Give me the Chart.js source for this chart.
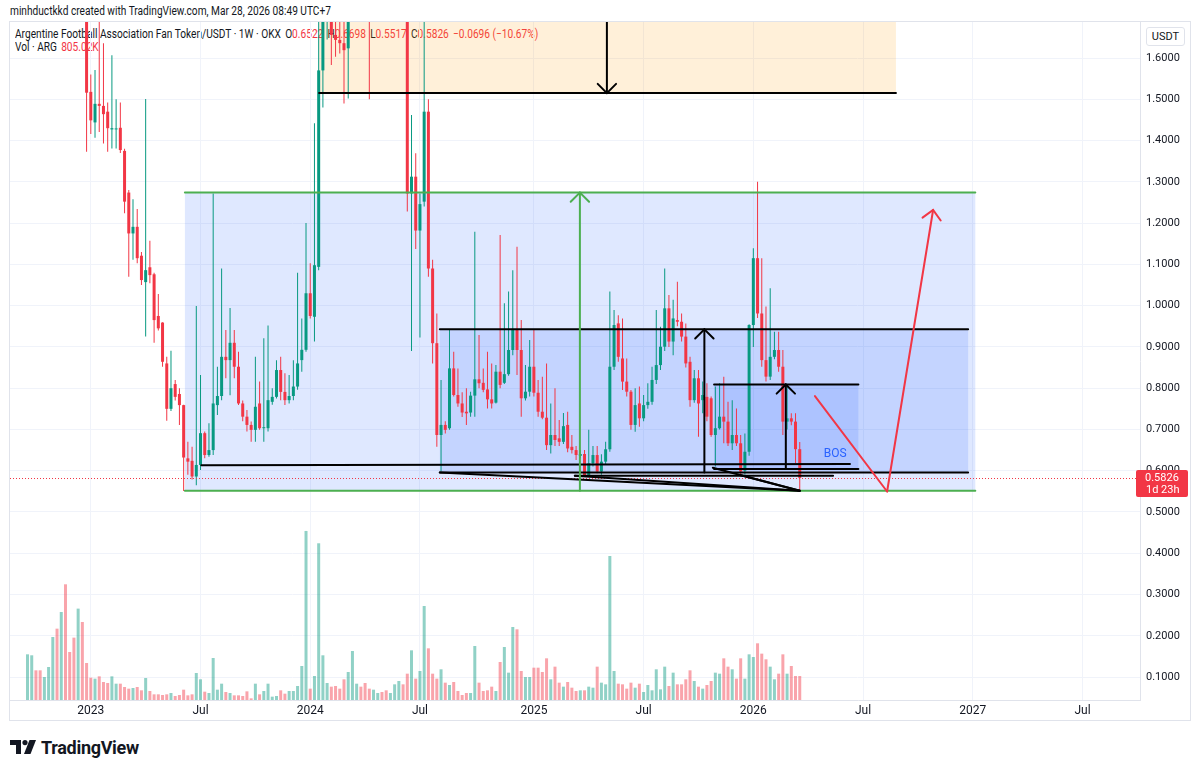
<!DOCTYPE html>
<html lang="en">
  <head>
    <title>ARG/USDT 1W</title>
    <script src="https://cdn.jsdelivr.net/npm/chart.js@4.4.1/dist/chart.umd.min.js"></script>
    <style>
      body{
        margin: 0;
        background: #ffffff;
        font-family: Roboto, 'Noto Sans', sans-serif;
        color: #131722;
      }
      #wrap{ position: relative; width: 1200px; height: 772px; overflow: hidden; }
      #author{ position: absolute; left: 10px; top: 4px; font-size: 12px; transform: scaleX(0.845); transform-origin: left top; white-space: nowrap; }
      #panel{ position: absolute; left: 9px; top: 21px; width: 1180px; height: 698px; border: 1px solid #e0e3eb; }
      #legend{ position: absolute; left: 15px; top: 28px; font-size: 12px; line-height: 13px; white-space: nowrap;
               transform: scaleX(0.845); transform-origin: left top; }
      #legend .dn{ color: #f23645; }
      #legend .gap{ display: inline-block; width: 5px; }
      #argChart{ position: absolute; left: 10px; top: 22px; }
      #unit{ position: absolute; left: 1146px; top: 27px; width: 37px; height: 17px; border: 1px solid #e0e3eb;
             border-radius: 3px; font-size: 11px; line-height: 17px; text-align: center; background: #fff; }
      #brand{ position: absolute; left: 10px; top: 737px; height: 20px; display: flex; align-items: center; }
      #brand span{ font-size: 18px; font-weight: 700; letter-spacing: -0.3px; margin-left: 5px; }
    </style>
  </head>
  <body>
    <div id="wrap">
      <div id="author">minhductkkd created with TradingView.com, Mar 28, 2026 08:49 UTC+7</div>
      <div id="panel"></div>
      <div id="legend">
        <div>Argentine Football Association Fan Token/USDT · 1W · OKX<span class="gap"></span><span id="ohlc"></span></div>
        <div>Vol · ARG<span class="gap"></span><span class="dn" id="vol"></span></div>
      </div>
      <canvas id="argChart" width="1180" height="698"></canvas>
      <div id="unit">USDT</div>
      <div id="brand">
        <svg width="26" height="14" viewBox="0 0 26 14">
          <path d="M0 0H11V14H6V5H0Z" fill="#131722"/>
          <circle cx="15" cy="2.6" r="2.6" fill="#131722"/>
          <path d="M19.5 0H26L20.5 14H14Z" fill="#131722"/>
        </svg>
        <span>TradingView</span>
      </div>
    </div>

<script>
  // weekly bars, first one is the week of 2022-09-19
  const opens = [
    2.05, 2.20, 2.35, 2.20, 2.05, 2.15, 2.40, 3.10, 2.80, 3.60,
    2.95, 2.60, 2.25, 2.45, 1.80, 1.518, 1.444, 1.489, 1.484, 1.470,
    1.427, 1.427, 1.431, 1.375, 1.274, 1.175, 1.191, 1.121, 1.057, 1.093,
    1.076, 0.975, 0.959, 0.860, 0.750, 0.810, 0.786, 0.759, 0.630, 0.624,
    0.586, 0.614, 0.691, 0.638, 0.650, 0.759, 0.781, 0.876, 0.868, 0.910,
    0.852, 0.763, 0.731, 0.711, 0.699, 0.763, 0.703, 0.703, 0.767, 0.779,
    0.844, 0.791, 0.771, 0.781, 0.804, 0.868, 0.893, 1.030, 0.973, 1.094,
    1.570, 1.800, 1.820, 1.656, 1.644, 1.636, 1.6235, 1.78, 1.95, 2.10,
    1.98, 1.88, 1.75, 1.85, 1.92, 1.85, 1.80, 1.88, 2.05, 2.20,
    1.95, 1.272, 1.3125, 1.182, 1.252, 1.470, 1.090, 0.909, 0.6866, 0.711,
    0.703, 0.848, 0.7835, 0.763, 0.743, 0.741, 0.782, 0.8215, 0.813, 0.797,
    0.773, 0.765, 0.840, 0.813, 0.834, 0.8925, 0.941, 0.8925, 0.7755, 0.7915,
    0.852, 0.789, 0.743, 0.7285, 0.662, 0.6866, 0.6785, 0.670, 0.711, 0.658,
    0.650, 0.636, 0.6405, 0.587, 0.618, 0.638, 0.598, 0.622, 0.652, 0.852,
    0.957, 0.872, 0.816, 0.7915, 0.711, 0.763, 0.727, 0.759, 0.767, 0.820,
    0.856, 0.9005, 0.9935, 0.913, 0.965, 0.961, 0.925, 0.864, 0.771, 0.824,
    0.771, 0.779, 0.7755, 0.6866, 0.703, 0.731, 0.719, 0.6665, 0.6866, 0.6665,
    0.600, 0.646, 0.953, 1.115, 0.981, 0.868, 0.828, 0.876, 0.8925, 0.852,
    0.719, 0.727, 0.719, 0.6522
  ];
  const highs = [
    2.30, 2.45, 2.40, 2.28, 2.22, 2.50, 3.30, 3.40, 4.10, 4.60,
    3.10, 2.75, 2.70, 2.55, 1.95, 1.56, 1.571, 1.72, 1.636, 1.492,
    1.607, 1.500, 1.492, 1.380, 1.280, 1.258, 1.234, 1.130, 1.501, 1.157,
    1.080, 1.028, 0.960, 0.876, 0.891, 0.820, 0.800, 0.760, 0.670, 0.658,
    0.999, 0.832, 0.695, 0.715, 1.272, 0.852, 1.090, 0.941, 0.994, 0.941,
    0.888, 0.770, 0.747, 0.719, 0.876, 0.816, 0.921, 0.952, 0.800, 0.868,
    0.876, 0.836, 0.832, 0.868, 1.080, 0.969, 1.200, 1.103, 1.442, 1.700,
    1.950, 1.950, 1.900, 1.700, 1.720, 1.750, 1.850, 2.05, 2.20, 2.18,
    2.02, 1.92, 1.95, 2.00, 1.97, 1.90, 1.95, 2.20, 2.40, 2.25,
    1.98, 1.462, 1.369, 1.272, 1.80, 1.500, 1.111, 0.981, 0.820, 0.720,
    0.941, 0.888, 0.848, 0.790, 0.800, 0.7915, 1.179, 0.929, 0.848, 0.888,
    0.860, 0.856, 1.171, 1.006, 1.034, 1.086, 1.143, 0.965, 0.856, 0.917,
    0.941, 0.820, 0.828, 0.860, 0.763, 0.800, 0.723, 0.740, 0.743, 0.6866,
    0.660, 0.650, 0.650, 0.699, 0.660, 0.660, 0.640, 0.670, 1.034, 0.9895,
    0.977, 0.969, 0.872, 0.7955, 0.800, 0.804, 0.7835, 0.812, 0.852, 0.9895,
    0.949, 1.090, 1.026, 1.014, 1.058, 0.981, 0.957, 0.876, 0.844, 0.844,
    0.816, 0.812, 0.780, 0.804, 0.812, 0.828, 0.767, 0.771, 0.751, 0.6866,
    0.690, 0.955, 1.139, 1.300, 1.115, 0.998, 1.042, 0.937, 0.937, 0.8925,
    0.804, 0.739, 0.739, 0.6698
  ];
  const lows = [
    1.98, 2.10, 2.12, 1.95, 1.98, 2.10, 2.35, 2.70, 2.75, 2.85,
    2.50, 2.15, 2.10, 1.75, 1.373, 1.416, 1.407, 1.421, 1.393, 1.373,
    1.381, 1.381, 1.370, 1.224, 1.070, 1.111, 1.103, 1.050, 0.925, 1.054,
    0.910, 0.940, 0.852, 0.721, 0.745, 0.770, 0.711, 0.551, 0.590, 0.579,
    0.565, 0.602, 0.630, 0.634, 0.638, 0.735, 0.771, 0.824, 0.783, 0.824,
    0.759, 0.720, 0.695, 0.670, 0.670, 0.699, 0.670, 0.695, 0.760, 0.775,
    0.771, 0.759, 0.763, 0.771, 0.796, 0.840, 0.888, 0.969, 0.913, 1.086,
    1.480, 1.645, 1.583, 1.603, 1.611, 1.490, 1.502, 1.72, 1.88, 1.90,
    1.78, 1.50, 1.71, 1.80, 1.80, 1.74, 1.76, 1.85, 2.00, 1.85,
    1.228, 0.890, 1.137, 0.923, 1.240, 1.070, 0.860, 0.658, 0.598, 0.690,
    0.699, 0.780, 0.755, 0.730, 0.711, 0.731, 0.731, 0.800, 0.790, 0.751,
    0.751, 0.763, 0.800, 0.810, 0.830, 0.880, 0.832, 0.731, 0.770, 0.780,
    0.780, 0.731, 0.7245, 0.650, 0.642, 0.660, 0.660, 0.665, 0.645, 0.642,
    0.626, 0.630, 0.5855, 0.5855, 0.610, 0.594, 0.590, 0.615, 0.646, 0.844,
    0.864, 0.7955, 0.780, 0.699, 0.6945, 0.7065, 0.720, 0.750, 0.760, 0.810,
    0.844, 0.890, 0.900, 0.880, 0.950, 0.913, 0.850, 0.755, 0.765, 0.6825,
    0.739, 0.720, 0.6825, 0.610, 0.700, 0.6665, 0.660, 0.650, 0.660, 0.590,
    0.590, 0.636, 0.900, 0.970, 0.852, 0.816, 0.820, 0.870, 0.840, 0.6866,
    0.700, 0.710, 0.618, 0.5517
  ];
  const closes = [
    2.20, 2.35, 2.20, 2.05, 2.15, 2.40, 3.10, 2.80, 3.60, 2.95,
    2.60, 2.25, 2.45, 1.80, 1.516, 1.449, 1.489, 1.484, 1.464, 1.430,
    1.430, 1.428, 1.377, 1.252, 1.175, 1.191, 1.115, 1.062, 1.086, 1.074,
    0.965, 0.945, 0.864, 0.750, 0.800, 0.779, 0.759, 0.632, 0.622, 0.586,
    0.614, 0.691, 0.638, 0.650, 0.763, 0.781, 0.876, 0.868, 0.910, 0.852,
    0.763, 0.731, 0.711, 0.699, 0.755, 0.703, 0.705, 0.771, 0.779, 0.844,
    0.791, 0.771, 0.781, 0.804, 0.860, 0.893, 1.030, 0.975, 1.098, 1.570,
    1.800, 1.820, 1.656, 1.644, 1.636, 1.619, 1.780, 1.95, 2.10, 1.98,
    1.88, 1.75, 1.85, 1.92, 1.85, 1.80, 1.88, 2.05, 2.20, 1.95,
    1.272, 1.3125, 1.182, 1.246, 1.470, 1.090, 0.909, 0.6866, 0.711, 0.699,
    0.848, 0.7835, 0.763, 0.741, 0.739, 0.782, 0.8215, 0.812, 0.796, 0.773,
    0.763, 0.840, 0.808, 0.834, 0.8925, 0.941, 0.8925, 0.7755, 0.7915, 0.852,
    0.789, 0.743, 0.7285, 0.662, 0.6866, 0.6745, 0.670, 0.708, 0.654, 0.650,
    0.638, 0.6405, 0.587, 0.618, 0.638, 0.598, 0.622, 0.652, 0.852, 0.953,
    0.876, 0.816, 0.7915, 0.711, 0.759, 0.727, 0.759, 0.767, 0.820, 0.856,
    0.9005, 0.9935, 0.913, 0.969, 0.961, 0.925, 0.860, 0.771, 0.824, 0.763,
    0.7835, 0.731, 0.6866, 0.703, 0.731, 0.719, 0.6665, 0.6866, 0.6665, 0.598,
    0.646, 0.953, 1.115, 0.981, 0.868, 0.828, 0.876, 0.8925, 0.852, 0.719,
    0.727, 0.719, 0.6522, 0.5826
  ];
  // volume in thousands of ARG
  const volumes = [
    1530, 1497, 994, 994, 771, 1106, 2111, 2390, 2949, 3876,
    1608, 2089, 3061, 2614, 1240, 748, 715, 793, 603, 570,
    793, 547, 547, 436, 380, 402, 436, 324, 737, 302,
    190, 190, 168, 190, 235, 134, 168, 346, 156, 190,
    905, 693, 279, 235, 1407, 346, 547, 268, 235, 156,
    156, 134, 290, 56, 547, 190, 302, 547, 112, 134,
    324, 212, 302, 302, 469, 1139, 5663, 380, 804, 5250,
    1497, 570, 447, 469, 380, 693, 938, 1642, 547, 447,
    570, 380, 346, 235, 268, 324, 235, 525, 637, 525,
    882, 1664, 715, 972, 3150, 1731, 882, 715, 1028, 581,
    503, 603, 302, 168, 235, 235, 1810, 581, 302, 324,
    447, 302, 1273, 1776, 916, 2446, 2368, 972, 771, 771,
    1083, 1083, 938, 1396, 693, 1117, 581, 447, 603, 413,
    302, 324, 324, 447, 413, 1117, 581, 525, 4825, 972,
    547, 525, 380, 581, 413, 547, 268, 503, 324, 1028,
    357, 1117, 469, 916, 525, 525, 693, 994, 637, 447,
    380, 503, 637, 916, 882, 1396, 1117, 1028, 715, 1396,
    715, 1530, 1441, 1899, 1553, 1363, 1117, 693, 882, 1530,
    882, 1139, 804, 805.02
  ];
  // time axis: bar index of the first week of each labelled month
  const tickIdx = [15, 41, 67, 93, 120, 146, 172, 198, 224, 250];
  const tickText = ['2023', 'Jul', '2024', 'Jul', '2025', 'Jul', '2026', 'Jul', '2027', 'Jul'];
  const priceTicks = [0.1, 0.2, 0.3, 0.4, 0.5, 0.6, 0.7, 0.8, 0.9, 1.0, 1.1, 1.2, 1.3, 1.4, 1.5, 1.6];

  // chart drawings, in (bar index, price)
  const boxes = [
    { from: 37.3, to: 224.6, bottom: 0.5517, top: 1.274, color: 'rgba(41,98,255,0.15)' },
    { from: 69.1, to: 205.8, bottom: 1.515, top: 2.5, color: 'rgba(255,152,0,0.15)' },
    { from: 97.7, to: 222.9, bottom: 0.596, top: 0.9427, color: 'rgba(41,98,255,0.15)' },
    { from: 162.7, to: 196.9, bottom: 0.604, top: 0.809, color: 'rgba(41,98,255,0.15)' }
  ];
  const segments = [
    { from: [37.3, 1.274], to: [224.6, 1.274], color: '#4caf50' },
    { from: [37.3, 0.5517], to: [224.6, 0.5517], color: '#4caf50' },
    { from: [69.1, 1.515], to: [205.8, 1.515], color: '#000000' },
    { from: [97.7, 0.9427], to: [222.9, 0.9427], color: '#000000' },
    { from: [97.7, 0.596], to: [222.9, 0.596], color: '#000000' },
    { from: [162.7, 0.809], to: [196.9, 0.809], color: '#000000' },
    { from: [162.7, 0.604], to: [196.9, 0.604], color: '#000000' },
    { from: [41.2, 0.6135], to: [194.9, 0.6165], color: '#000000' },
    { from: [129.7, 0.588], to: [190.9, 0.588], color: '#000000' },
    { from: [97.7, 0.596], to: [183, 0.5517], color: '#000000' },
    { from: [129.7, 0.588], to: [183, 0.5517], color: '#000000' },
    { from: [162.4, 0.607], to: [183, 0.5517], color: '#000000' },
    { from: [168.8, 0.5897], to: [183, 0.5517], color: '#000000' },
    { from: [137.3, 1.80], to: [137.3, 1.515], color: '#000000', arrow: true },
    { from: [130.9, 0.5517], to: [130.9, 1.274], color: '#4caf50', arrow: true },
    { from: [160.4, 0.596], to: [160.4, 0.9427], color: '#000000', arrow: true },
    { from: [179.7, 0.604], to: [179.7, 0.809], color: '#000000', arrow: true },
    { from: [186.6, 0.781], to: [203.7, 0.5497], color: '#f23645' },
    { from: [203.7, 0.5497], to: [214.6, 1.2318], color: '#f23645', arrow: true }
  ];

  const upColor = '#089981';
  const downColor = '#f23645';
  const last = closes.length - 1;
  const idx = closes.map((c, i) => i);
  const candleColors = idx.map(i => closes[i] >= opens[i] ? upColor : downColor);
  const volColors = idx.map(i => closes[i] >= opens[i] ? 'rgba(8,153,129,0.45)' : 'rgba(242,54,69,0.45)');

  // legend text from the last bar
  const chg = closes[last] - closes[last - 1];
  const pct = chg / closes[last - 1] * 100;
  const f4 = v => v.toFixed(4);
  document.getElementById('ohlc').innerHTML =
    'O<span class="dn">' + f4(opens[last]) + '</span><span class="gap"></span>' +
    'H<span class="dn">' + f4(highs[last]) + '</span><span class="gap"></span>' +
    'L<span class="dn">' + f4(lows[last]) + '</span><span class="gap"></span>' +
    'C<span class="dn">' + f4(closes[last]) + '</span><span class="gap"></span>' +
    '<span class="dn">' + (chg < 0 ? '\u2212' : '+') + Math.abs(chg).toFixed(4) +
    ' (' + (pct < 0 ? '\u2212' : '+') + Math.abs(pct).toFixed(2) + '%)</span>';
  document.getElementById('vol').textContent = volumes[last].toFixed(2) + 'K';

  function arrowHead(ctx, sx, sy, ex, ey, len, spread) {
    const a = Math.atan2(ey - sy, ex - sx);
    ctx.beginPath();
    ctx.moveTo(ex - len * Math.cos(a - spread), ey - len * Math.sin(a - spread));
    ctx.lineTo(ex, ey);
    ctx.lineTo(ex - len * Math.cos(a + spread), ey - len * Math.sin(a + spread));
    ctx.stroke();
  }

  const drawings = {
    id: 'drawings',
    beforeDatasetsDraw(chart) {
      const { ctx, chartArea: a, scales: { x, y } } = chart;
      ctx.save();
      ctx.beginPath();
      ctx.rect(a.left, a.top, a.width, a.height);
      ctx.clip();
      boxes.forEach(b => {
        const x1 = x.getPixelForValue(b.from), x2 = x.getPixelForValue(b.to);
        const y1 = y.getPixelForValue(b.top), y2 = y.getPixelForValue(b.bottom);
        ctx.fillStyle = b.color;
        ctx.fillRect(x1, y1, x2 - x1, y2 - y1);
      });
      ctx.restore();
    },
    afterDatasetsDraw(chart) {
      const { ctx, chartArea: a, scales: { x, y } } = chart;
      ctx.save();
      ctx.beginPath();
      ctx.rect(a.left, a.top, a.width, a.height);
      ctx.clip();

      // last price line
      const py = Math.round(y.getPixelForValue(closes[last])) + 0.5;
      ctx.strokeStyle = downColor;
      ctx.lineWidth = 1;
      ctx.setLineDash([1, 2]);
      ctx.beginPath();
      ctx.moveTo(a.left, py);
      ctx.lineTo(a.right, py);
      ctx.stroke();
      ctx.setLineDash([]);

      ctx.lineWidth = 2;
      ctx.lineCap = 'round';
      segments.forEach(s => {
        const sx = x.getPixelForValue(s.from[0]), sy = y.getPixelForValue(s.from[1]);
        const ex = x.getPixelForValue(s.to[0]), ey = y.getPixelForValue(s.to[1]);
        ctx.strokeStyle = s.color;
        ctx.beginPath();
        ctx.moveTo(sx, sy);
        ctx.lineTo(ex, ey);
        ctx.stroke();
        if (s.arrow) arrowHead(ctx, sx, sy, ex, ey, 13, Math.PI / 4);
      });

      ctx.fillStyle = '#2962ff';
      ctx.font = '12px Roboto, sans-serif';
      ctx.textAlign = 'center';
      ctx.textBaseline = 'middle';
      ctx.fillText('BOS', x.getPixelForValue(191.4), y.getPixelForValue(0.6405));
      ctx.restore();
    },
    afterDraw(chart) {
      const { ctx, chartArea: a, scales: { y } } = chart;
      const py = Math.round(y.getPixelForValue(closes[last]));
      ctx.save();
      ctx.fillStyle = downColor;
      ctx.beginPath();
      ctx.roundRect(a.right - 4, py - 8, 52, 27, 2);
      ctx.fill();
      ctx.fillStyle = '#ffffff';
      ctx.font = '11px Roboto, sans-serif';
      ctx.textAlign = 'left';
      ctx.textBaseline = 'middle';
      ctx.fillText(f4(closes[last]), a.right + 5, py);
      ctx.fillText('1d 23h', a.right + 6, py + 12);
      ctx.restore();
    }
  };

  Chart.defaults.font.family = "Roboto, 'Noto Sans', sans-serif";
  Chart.defaults.font.size = 11;
  Chart.defaults.color = '#131722';

  const barCommon = { grouped: false, clip: 0, inflateAmount: 0, borderWidth: 0, borderSkipped: false };

  const argCtx = document.getElementById('argChart').getContext('2d');
  const argChart = new Chart(argCtx, {
    type: 'bar',
    data: {
      datasets: [
        Object.assign({
          label: 'Volume', yAxisID: 'yv', order: 3, barThickness: 3,
          data: idx.map(i => ({ x: i, y: volumes[i] })),
          backgroundColor: volColors
        }, barCommon),
        Object.assign({
          label: 'Wicks', yAxisID: 'y', order: 2, barThickness: 1,
          data: idx.map(i => ({ x: i, y: [lows[i], highs[i]] })),
          backgroundColor: candleColors
        }, barCommon),
        Object.assign({
          label: 'Bodies', yAxisID: 'y', order: 1, barThickness: 3, minBarLength: 1,
          data: idx.map(i => ({ x: i, y: [Math.min(opens[i], closes[i]), Math.max(opens[i], closes[i])] })),
          backgroundColor: candleColors
        }, barCommon)
      ]
    },
    options: {
      responsive: false,
      animation: false,
      layout: { padding: 0 },
      plugins: { legend: { display: false }, tooltip: { enabled: false } },
      scales: {
        x: {
          type: 'linear',
          min: -4.147,
          max: 263.63,
          offset: false,
          grid: { color: '#f0f3fa', offset: false, drawTicks: false },
          border: { color: '#e0e3eb' },
          ticks: {
            padding: 4,
            font: { size: 12 },
            maxRotation: 0,
            autoSkip: false,
            callback: v => tickText[tickIdx.indexOf(v)]
          },
          afterBuildTicks: s => { s.ticks = tickIdx.map(v => ({ value: v })); },
          afterFit: s => { s.height = 20; s.paddingLeft = 0; s.paddingRight = 0; }
        },
        y: {
          position: 'right',
          min: 0.04446,
          max: 1.6873,
          grid: { color: '#f0f3fa', drawTicks: false },
          border: { color: '#e0e3eb' },
          ticks: { padding: 6, callback: v => v.toFixed(4) },
          afterBuildTicks: s => { s.ticks = priceTicks.map(v => ({ value: v })); },
          afterFit: s => { s.width = 50; s.paddingTop = 0; s.paddingBottom = 0; }
        },
        yv: { display: false, min: 0, max: 22713 }
      }
    },
    plugins: [drawings]
  });
</script>
  </body>
</html>
